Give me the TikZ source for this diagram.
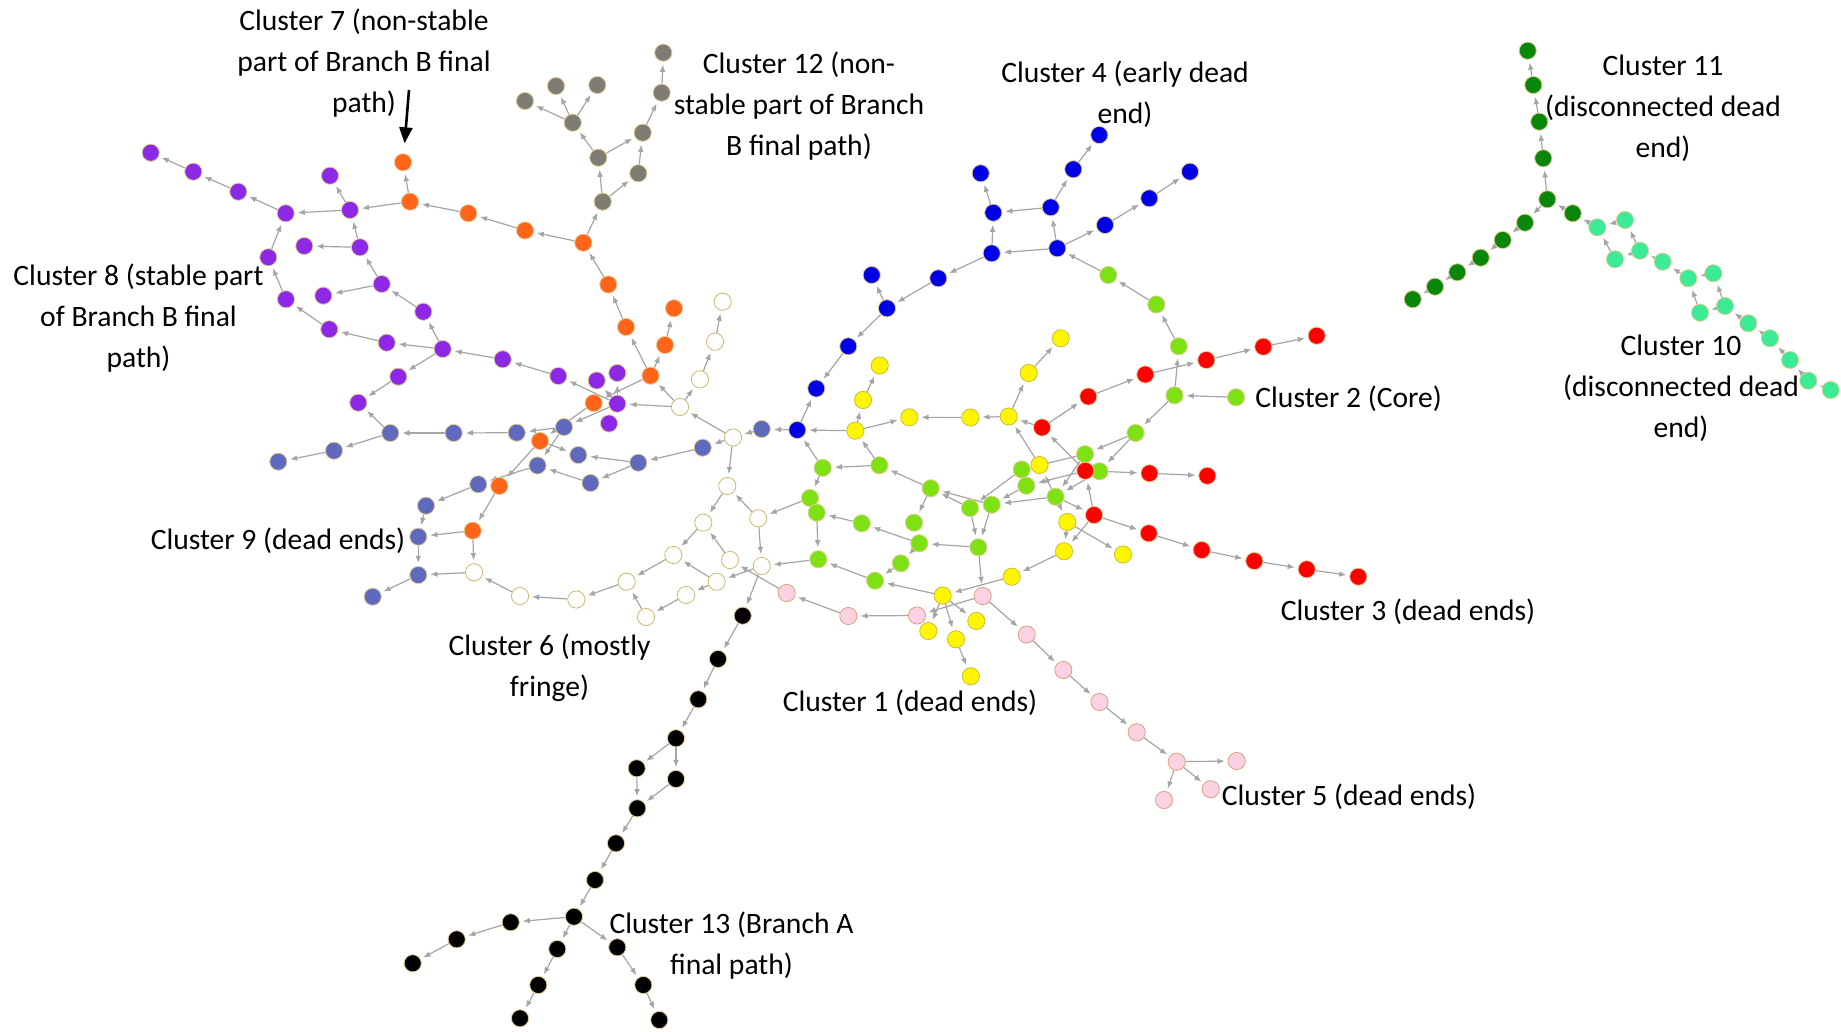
\documentclass[tikz,border=0pt]{standalone}
\usepackage{fontspec}
\setmainfont{Carlito}
\usetikzlibrary{arrows.meta}
\pgfdeclarelayer{bg}
\pgfdeclarelayer{edges}
\pgfsetlayers{bg,edges,main}
\definecolor{edgegray}{RGB}{165,165,165}
\definecolor{ringC}{RGB}{225,205,150}
\definecolor{cPur}{RGB}{140,40,230}
\definecolor{cOra}{RGB}{255,100,24}
\definecolor{cGry}{RGB}{125,125,115}
\definecolor{cSla}{RGB}{95,105,190}
\definecolor{cBlu}{RGB}{0,0,230}
\definecolor{cYel}{RGB}{255,245,0}
\definecolor{cGrn}{RGB}{125,225,20}
\definecolor{cRed}{RGB}{255,0,0}
\definecolor{cPnk}{RGB}{250,210,225}
\definecolor{cDgr}{RGB}{10,135,10}
\definecolor{cLgr}{RGB}{60,235,150}
\tikzset{
  nd/.style={circle,minimum size=8.6pt,inner sep=0pt,draw=ringC,line width=0.4pt},
  pur/.style={nd,fill=cPur},
  ora/.style={nd,fill=cOra},
  gry/.style={nd,fill=cGry},
  sla/.style={nd,fill=cSla},
  wht/.style={nd,fill=white,draw={rgb,255:red,205;green,185;blue,110}},
  blu/.style={nd,fill=cBlu},
  yel/.style={nd,fill=cYel,draw={rgb,255:red,200;green,190;blue,60}},
  grn/.style={nd,fill=cGrn},
  red/.style={nd,fill=cRed},
  pnk/.style={nd,fill=cPnk,draw={rgb,255:red,220;green,160;blue,130}},
  blk/.style={nd,fill=black},
  dgr/.style={nd,fill=cDgr},
  lgr/.style={nd,fill=cLgr},
  ed/.style={draw=edgegray,line width=0.6pt,-{Latex[length=3.6pt,width=2.9pt]},shorten >=1.5pt},
  lbl/.style={align=center,inner sep=0pt,font=\fontsize{14.8}{20.5}\selectfont}
}
\begin{document}
\begin{tikzpicture}[x=0.5pt,y=-0.5pt]
\begin{pgfonlayer}{bg}
\fill[white] (0,0) rectangle (1841,1032);
\end{pgfonlayer}
\useasboundingbox (0,0) rectangle (1841,1032);
% purple
\foreach \n/\x/\y in {P1/150.7/152.7,P2/193.3/171.7,P3/238.3/191.7,P4/285.7/213.3,P5/330/175.7,P6/350/210,P7/304.3/246,P8/360/247.3,P9/268.3/257.3,P10/381.7/284,P11/323.3/295.7,P12/286/299.3,P13/423.3/311.7,P14/329.3/329.3,P15/386.7/342.7,P16/442.7/349,P17/502.7/359.3,P18/558.3/376,P19/398.3/376.7,P20/358.3/402.7,P21/596.7/380.5,P22/617.3/373,P23/617.3/403.7,P24/609/423.5}
  \node[pur] (\n) at (\x,\y) {};
% orange
\foreach \n/\x/\y in {O1/403/162.3,O2/410/201.7,O3/468.3/213.3,O4/525/230.5,O5/583.3/242.7,O6/608.3/284.5,O11/626/327,O12/674/308.3,O8/665/345,O7/650.5/375.7,Ox/593.7/403,Oy/540/441,O9/499.3/486,O10/472.7/530.7}
  \node[ora] (\n) at (\x,\y) {};
% gray
\foreach \n/\x/\y in {Y1/663.3/52.7,Y2/525/101,Y3/556/86,Y4/597.3/85,Y5/661.7/92.7,Y6/572.7/122.7,Y7/642.7/132.7,Y8/598.3/157.7,Y9/638.3/173.3,Y10/602.7/201.7}
  \node[gry] (\n) at (\x,\y) {};
% slate
\foreach \n/\x/\y in {G1/390.3/433,G2/453.7/433,G3/516.7/432.7,G4/564/427,G5/334/450.7,G6/278.3/461.7,G7/578.3/455,G8/537.5/465.5,G9/638.3/462.7,G10/590.5/483,G11/702.7/447.7,G12/761.7/429,G13/478.3/484.3,G14/426/505.7,G15/418.3/536.7,G16/418.3/575,G17/372.7/596.7}
  \node[sla] (\n) at (\x,\y) {};
% white
\foreach \n/\x/\y in {W1/680/407,W2/733/437.5,W3/474/572.3,W4/520/596,W5/576.3/599.5,W6/626.7/581.7,W7/673.3/555,W8/703.3/522.7,W9/727.3/486,W10/758.3/518.3,W11/730/560,W12/761.7/566,W13/716.7/581.7,W14/686/595,W15/646/617,W16/722.7/301.7,W17/715/341.7,W18/700/379.3}
  \node[wht] (\n) at (\x,\y) {};
% blue
\foreach \n/\x/\y in {B1/871.7/275,B2/887/308.3,B3/848.3/346.3,B4/816.3/388.5,B5/797.3/430,B6/1099.3/135,B7/1073.3/169.3,B8/980.7/173.3,B9/1190/171.7,B10/1149.3/198.3,B11/993.3/212.7,B12/1050.7/207.3,B13/1105/225,B14/991.7/253.3,B15/1057.3/248.3,B16/938.3/278.3}
  \node[blu] (\n) at (\x,\y) {};
% yellow
\foreach \n/\x/\y in {Yl1/879.7/365.5,Yl2/863/400,Yl3/909.3/417.3,Yl4/855.3/430.7,Yl5/1060.7/338.3,Yl6/1028.7/373,Yl7/1008.7/416.5,Yl8/970.3/417.5,Yl9/1039.5/465,Yl10/1067.3/522,Yl11/1064/551.3,Yl12/1123/554.5,Yl13/1011.7/576.7,Yl14/942.7/595.5,Yl15/928.3/631,Yl16/976.3/621,Yl17/956/639.3,Yl18/970.8/676.3}
  \node[yel] (\n) at (\x,\y) {};
% green
\foreach \n/\x/\y in {Gr1/822.7/467.8,Gr2/879.3/465.3,Gr3/810/498,Gr4/1108.3/275,Gr5/1156.3/304.5,Gr6/1178.7/346.3,Gr7/1174.5/395.3,Gr8/1135.5/433,Gr9/1085/454.2,Gr10/1021.7/469.5,Gr11/1099.5/471.3,Gr12/1026.3/485.7,Gr13/930.7/488.3,Gr14/816.7/512.7,Gr15/970/508,Gr16/991.7/504.7,Gr17/1055.5/496.7,Gr18/861.7/523.3,Gr19/914/522.7,Gr20/919.3/543.3,Gr21/978.3/547.3,Gr22/818.3/559.3,Gr23/900.7/563.3,Gr24/875/580.7,Gr25/1236/397.3}
  \node[grn] (\n) at (\x,\y) {};
% red
\foreach \n/\x/\y in {R1/1206.3/360,R2/1145.3/374.5,R3/1088.3/396.5,R4/1042/427.5,R5/1085.3/470.8,R6/1149.5/473.3,R7/1207.3/475.8,R8/1094/515,R9/1148.7/533.3,R10/1201.7/550,R11/1316.7/335.7,R12/1263.3/346.7,R13/1254.3/561,R14/1306.7/569.3,R15/1358.3/576.7}
  \node[red] (\n) at (\x,\y) {};
% pink
\foreach \n/\x/\y in {K1/786.7/593,K2/982.7/596,K3/848.3/616,K4/917/615.5,K5/1026.7/634.5,K6/1063.3/670,K7/1099.5/702,K8/1136.7/732.3,K9/1176.7/761.7,K10/1236.7/761,K11/1210.7/789.3,K12/1164/800}
  \node[pnk] (\n) at (\x,\y) {};
% black
\foreach \n/\x/\y in {L1/742.7/615.7,L2/718/659,L3/698.3/699.3,L4/676/738.3,L5/636.7/768.3,L6/676/779,L7/637.3/808.3,L8/616/843.3,L9/595/880,L10/574/916.7,L11/510.7/922.3,L12/456.7/939.3,L13/412.7/963.3,L14/557.3/949,L15/538.3/985,L16/520/1018.3,L17/617.3/947.3,L18/643.3/985,L19/659.3/1020}
  \node[blk] (\n) at (\x,\y) {};
% dark green
\foreach \n/\x/\y in {D1/1527.7/50.7,D2/1533.3/85,D3/1539.3/121.7,D4/1543.3/158.3,D5/1547.3/199.3,D6/1525/222.7,D7/1502.7/240,D8/1480.7/257.7,D9/1457.3/272.3,D10/1435/286.7,D11/1412.7/299.3,D12/1572.7/213.3}
  \node[dgr] (\n) at (\x,\y) {};
% light green
\foreach \n/\x/\y in {E1/1597.3/227.3,E2/1625/220,E3/1615/259.3,E4/1640/250.7,E5/1662.7/261.7,E6/1688.3/278.3,E7/1713.3/273.3,E8/1700/312.7,E9/1725/306,E10/1748.3/323.3,E11/1770/338.3,E12/1790/360,E13/1808.3/380.7,E14/1830.7/390}
  \node[lgr] (\n) at (\x,\y) {};

\begin{pgfonlayer}{edges}
\foreach \a/\b in {P2/P1,P3/P2,P4/P3,P6/P4,P6/P5,O2/P6,P8/P6,P8/P7,P9/P4,P10/P8,P10/P11,P12/P9,P13/P10,P14/P12,P15/P14,P16/P15,P16/P13,P17/P16,P18/P17,P16/P19,P19/P20,P23/P18,P23/P21,P23/P22,P23/P24,
  O2/O1,O3/O2,O4/O3,O5/O4,O6/O5,O11/O6,O7/O11,O7/O8,O8/O12,W1/O7,O7/Ox,Ox/Oy,Oy/O9,O9/O10,O10/W3,O10/G15,Oy/G7,
  O5/Y10,Y10/Y8,Y10/Y9,Y9/Y7,Y8/Y7,Y7/Y5,Y5/Y1,Y8/Y6,Y6/Y2,Y6/Y3,Y6/Y4,
  G1/P20,G2/G1,G3/G2,G4/G3,G1/G5,G5/G6,P23/G4,G4/G8,G8/G13,G13/G14,G14/G15,G15/G16,W3/G16,G16/G17,G10/G8,G9/G10,G9/G7,G11/G9,W2/G11,G12/W2,B5/G12,
  W2/W1,W1/P23,W1/W18,W18/W17,W17/W16,W2/W9,W9/W8,W10/W9,W10/W12,W8/W7,W11/W8,W7/W6,W6/W5,W5/W4,W4/W3,W15/W6,W14/W15,W13/W14,W13/W7,W12/W13,K1/W11,Gr3/W10,Gr22/W12,W12/L1,
  L1/L2,L2/L3,L3/L4,L4/L5,L4/L6,L5/L7,L6/L7,L7/L8,L8/L9,L9/L10,L10/L11,L11/L12,L12/L13,L10/L14,L14/L15,L15/L16,L10/L17,L17/L18,L18/L19,
  Yl4/B5,B5/B4,B3/B4,B2/B3,B2/B1,B16/B2,B14/B16,B15/B14,B14/B11,B11/B8,B12/B11,B15/B12,B12/B7,B7/B6,B15/B13,B13/B10,B10/B9,Gr4/B15,Gr1/B5,
  Gr5/Gr4,Gr6/Gr5,Gr7/Gr6,Gr25/Gr7,Gr7/Gr8,Gr8/Gr9,Gr8/Gr11,Gr9/Gr17,Gr11/Gr17,Gr9/Gr10,Gr2/Gr1,Gr2/Yl4,Gr13/Gr2,Gr15/Gr13,Gr16/Gr13,Gr17/Gr16,Gr13/Gr19,Gr15/Gr21,Gr16/Gr21,Gr21/Gr20,Gr20/Gr18,Gr18/Gr14,Gr20/Gr23,Gr23/Gr24,Gr24/Gr22,Gr1/Gr3,Gr14/Gr22,Gr10/Gr15,Gr12/Gr16,Gr21/K2,Yl14/Gr24,
  R4/R3,R3/R2,R2/R1,R1/R12,R12/R11,R5/R4,R8/R5,Gr17/R8,R8/R9,R9/R10,R10/R13,R13/R14,R14/R15,Gr11/R6,R6/R7,R5/Gr12,R4/Yl7,
  Yl4/Yl2,Yl2/Yl1,Yl4/Yl3,Yl8/Yl3,Yl7/Yl8,Yl7/Yl6,Yl6/Yl5,Yl9/Yl7,Gr17/Yl9,Gr17/Yl10,Yl10/Yl11,R8/Yl11,Yl10/Yl12,Yl11/Yl13,Yl13/Yl14,Yl14/Yl15,Yl14/Yl16,Yl14/Yl17,Yl17/Yl18,
  K2/K4,K4/K3,K3/K1,K2/K5,K5/K6,K6/K7,K7/K8,K8/K9,K9/K10,K9/K11,K9/K12,
  D2/D1,D3/D2,D4/D3,D5/D4,D5/D6,D6/D7,D7/D8,D8/D9,D9/D10,D10/D11,D12/D5,E1/D12,E2/E1,E3/E1,E4/E3,E4/E2,E5/E4,E6/E5,E7/E6,E8/E6,E9/E8,E9/E7,E10/E9,E11/E10,E12/E11,E13/E12,E14/E13}
  \draw[ed] (\a) -- (\b);
\end{pgfonlayer}

% labels
\node[lbl] (t7) at (364,63) {Cluster 7 (non-stable\\part of Branch B final\\path)};
\coordinate (a7) at (409,90);
\draw[line width=1.3pt,-{Triangle[length=8pt,width=6.5pt]},shorten >=5pt] (a7) -- (O1);
\node[lbl] (t12) at (799,105.7) {Cluster 12 (non-\\stable part of Branch\\B final path)};
\node[lbl] (t4) at (1125,94.5) {Cluster 4 (early dead\\end)};
\node[lbl] (t11) at (1663,108) {Cluster 11\\(disconnected dead\\end)};
\node[lbl] (t8) at (138.5,318) {Cluster 8 (stable part\\of Branch B final\\path)};
\node[lbl,anchor=west] (t2) at (1255,399) {Cluster 2 (Core)};
\node[lbl] (t10) at (1681,388) {Cluster 10\\(disconnected dead\\end)};
\node[lbl] (t9) at (278,541) {Cluster 9 (dead ends)};
\node[lbl] (t6) at (549.5,667.5) {Cluster 6 (mostly\\fringe)};
\node[lbl] (t3) at (1408,611.7) {Cluster 3 (dead ends)};
\node[lbl] (t1) at (910,703) {Cluster 1 (dead ends)};
\node[lbl] (t5) at (1349,797) {Cluster 5 (dead ends)};
\node[lbl] (t13) at (731.5,945.5) {Cluster 13 (Branch A\\final path)};
\end{tikzpicture}
\end{document}
